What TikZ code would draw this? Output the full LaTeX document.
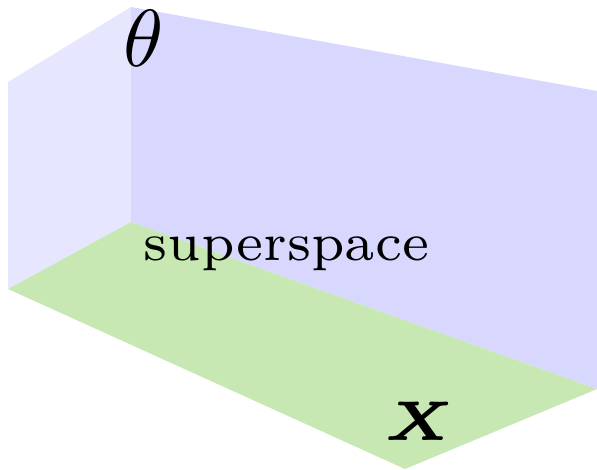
\documentclass[tikz,border=0pt]{standalone}
\usepackage{amsmath}
\usepackage{amssymb}
\usepackage{tikz}
\usetikzlibrary{positioning, calc}

\definecolor{sidecol}{RGB}{230,230,255}
\definecolor{backcol}{RGB}{216,216,255}
\definecolor{floorcol}{RGB}{199,232,179}

\begin{document}
\begin{tikzpicture}[x=1pt, y=-1pt]
    \useasboundingbox (0,0) rectangle (597,469);

    \coordinate (lt) at (8,82);
    \coordinate (lb) at (8,289);
    \coordinate (bt) at (131,7);
    \coordinate (bb) at (131,222);
    \coordinate (rt) at (597,91);
    \coordinate (rb) at (597,389);
    \coordinate (fb) at (405,469);

    \fill[sidecol] (lb) -- (lt) -- (bt) -- (bb) -- cycle;
    \fill[backcol] (bb) -- (bt) -- (rt) -- (rb) -- cycle;
    \fill[floorcol] (lb) -- (bb) -- (rb) -- (fb) -- cycle;

    \node[scale=8.1, anchor=base, inner sep=0pt] (theta) at (143.5,66) {\fontsize{10}{12}\selectfont $\theta$};
    \node[scale=7.6, anchor=base, inner sep=0pt] (super) at (286.5,260) {\fontsize{7}{8}\selectfont superspace};
    \node[scale=11.2, anchor=base, inner sep=0pt] (xlab) at (420,440) {\fontsize{5}{6}\selectfont $\boldsymbol{X}$};
\end{tikzpicture}
\end{document}
